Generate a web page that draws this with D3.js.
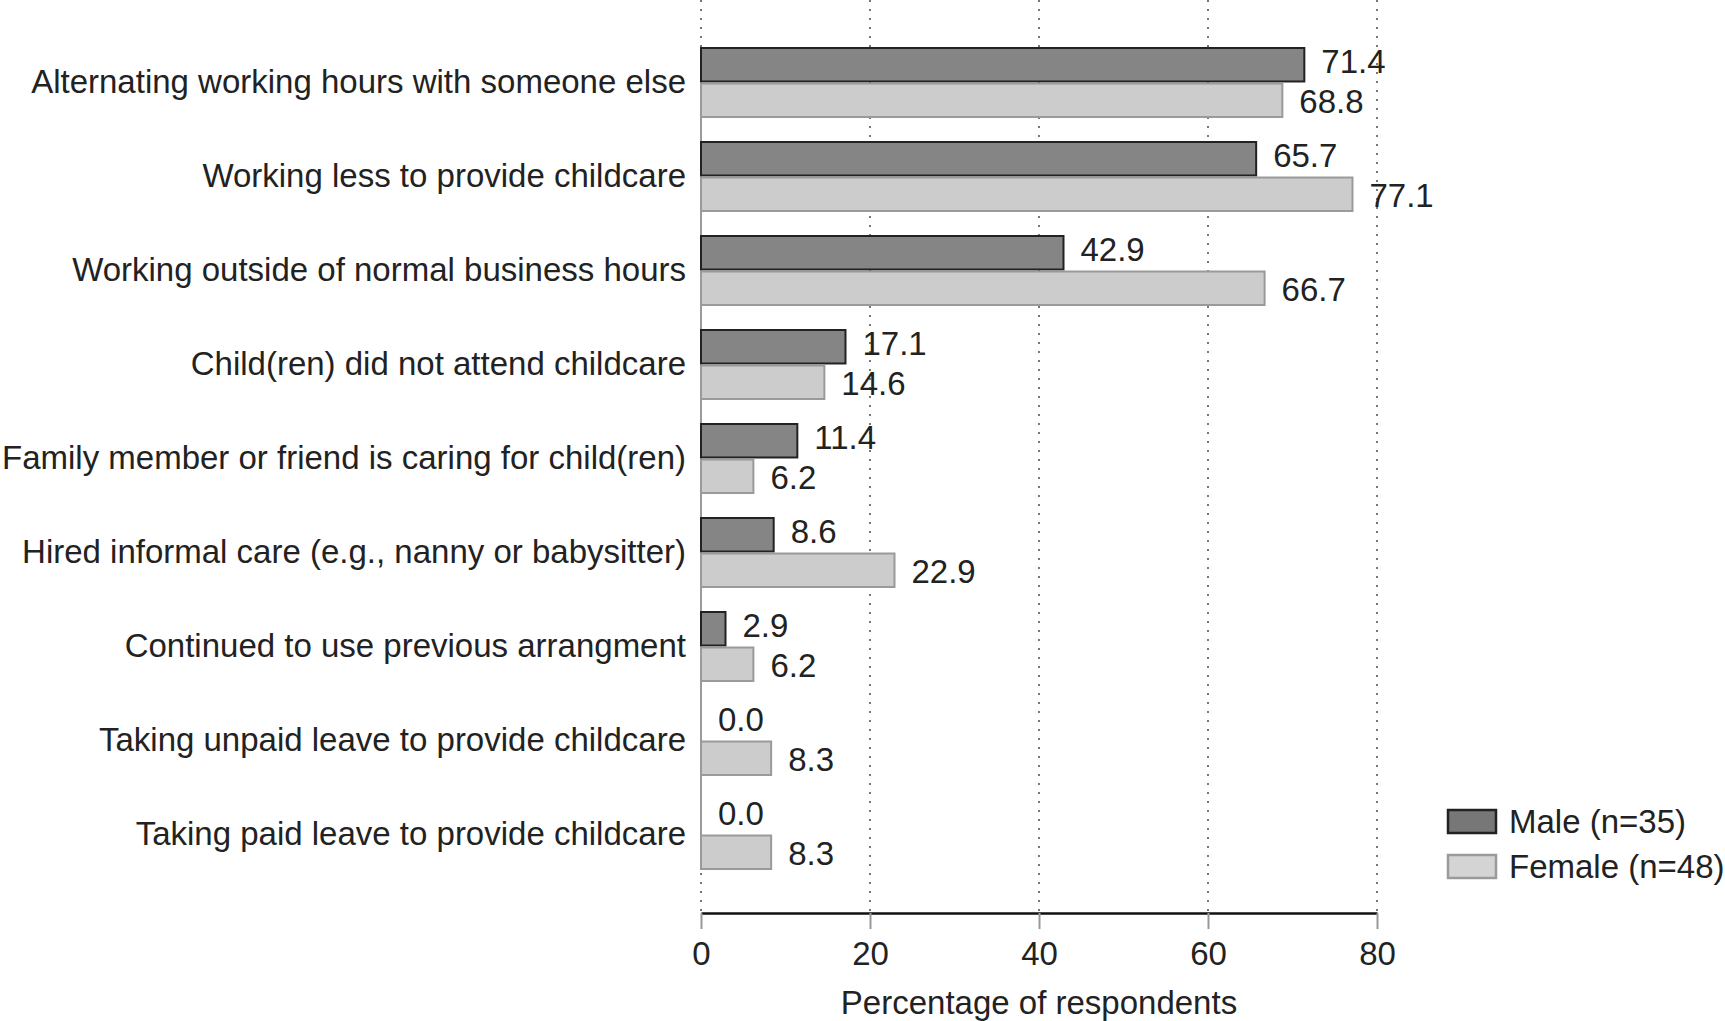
<!DOCTYPE html>
<html>
<head>
<meta charset="utf-8">
<script src="https://cdn.jsdelivr.net/npm/d3@7"></script>
<style>
    body { margin: 0; background: #fff; }
    text { font-family: "Liberation Sans", Arial, sans-serif; fill: #222; }
</style>
</head>
<body>
<svg id="chart" width="1725" height="1021"></svg>
<script>
'use strict';

// data
const categories = [
    'Alternating working hours with someone else',
    'Working less to provide childcare',
    'Working outside of normal business hours',
    'Child(ren) did not attend childcare',
    'Family member or friend is caring for child(ren)',
    'Hired informal care (e.g., nanny or babysitter)',
    'Continued to use previous arrangment',
    'Taking unpaid leave to provide childcare',
    'Taking paid leave to provide childcare'
];
const maleValues   = [71.4, 65.7, 42.9, 17.1, 11.4, 8.6, 2.9, 0.0, 0.0];
const femaleValues = [68.8, 77.1, 66.7, 14.6, 6.2, 22.9, 6.2, 8.3, 8.3];
const seriesNames  = ['Male (n=35)', 'Female (n=48)'];
const xTicks       = [0, 20, 40, 60, 80];

// style per series
const fills   = ['#858585', '#cccccc'];
const strokes = ['#222222', '#9a9a9a'];
const legendFills = ['#777777', '#d4d4d4'];
const fontSize = 33;

const svg = d3.select('#chart');

// scales
const x = d3.scaleLinear().domain([0, 80]).range([701, 1377]);
const y = d3.scaleBand().domain(categories).range([48, 869]).paddingInner(25 / 94);
const sub = d3.scaleBand().domain([0, 1]).range([0, y.bandwidth()]).paddingInner(2 / 35);
const axisY = 913;

// dotted grid lines
svg.append('g')
    .selectAll('line')
    .data(xTicks)
    .enter()
    .append('line')
    .attr('x1', d => x(d)).attr('x2', d => x(d))
    .attr('y1', 0).attr('y2', axisY)
    .attr('stroke', '#777')
    .attr('stroke-width', 2)
    .attr('stroke-dasharray', '2,7');

// light y axis line at zero
svg.append('line')
    .attr('x1', x(0)).attr('x2', x(0))
    .attr('y1', y(categories[0])).attr('y2', y(categories[categories.length - 1]) + y.bandwidth())
    .attr('stroke', '#9a9a9a')
    .attr('stroke-width', 2);

// rows built from the arrays
const rows = categories.map((c, i) => ({ cat: c, vals: [maleValues[i], femaleValues[i]] }));

const row = svg.append('g')
    .selectAll('g')
    .data(rows)
    .enter()
    .append('g')
    .attr('transform', d => `translate(0,${y(d.cat)})`);

// bars
row.selectAll('rect')
    .data(d => d.vals.map((v, k) => ({ v, k })))
    .enter()
    .append('rect')
    .attr('x', x(0))
    .attr('y', d => sub(d.k))
    .attr('width', d => x(d.v) - x(0))
    .attr('height', sub.bandwidth())
    .attr('fill', d => fills[d.k])
    .attr('stroke', d => strokes[d.k])
    .attr('stroke-width', 2);

// value labels
row.selectAll('text.val')
    .data(d => d.vals.map((v, k) => ({ v, k })))
    .enter()
    .append('text')
    .attr('class', 'val')
    .attr('x', d => x(d.v) + 17)
    .attr('y', d => sub(d.k) + sub.bandwidth() / 2 + (d.k === 0 ? 8 : 13))
    .attr('font-size', fontSize)
    .text(d => d.v.toFixed(1));

// category labels
row.append('text')
    .attr('x', 686)
    .attr('y', y.bandwidth() / 2 + 10)
    .attr('text-anchor', 'end')
    .attr('font-size', fontSize)
    .text(d => d.cat);

// x axis
const xAxis = svg.append('g')
    .attr('transform', `translate(0,${axisY})`)
    .call(d3.axisBottom(x).tickValues(xTicks).tickSize(16).tickPadding(13).tickSizeOuter(0));
xAxis.select('.domain').attr('stroke', '#111').attr('stroke-width', 2.5);
xAxis.selectAll('.tick line').attr('stroke', '#999').attr('stroke-width', 2);
xAxis.selectAll('.tick text')
    .attr('font-size', fontSize)
    .attr('font-family', '"Liberation Sans", Arial, sans-serif')
    .attr('fill', '#222');

svg.append('text')
    .attr('x', x(40))
    .attr('y', 1014)
    .attr('text-anchor', 'middle')
    .attr('font-size', fontSize)
    .text('Percentage of respondents');

// legend
const legend = svg.append('g')
    .selectAll('g')
    .data(seriesNames)
    .enter()
    .append('g')
    .attr('transform', (d, i) => `translate(1448,${810 + i * 45})`);

legend.append('rect')
    .attr('width', 48)
    .attr('height', 23)
    .attr('fill', (d, i) => legendFills[i])
    .attr('stroke', (d, i) => strokes[i])
    .attr('stroke-width', 2.5);

legend.append('text')
    .attr('x', 61)
    .attr('y', 23)
    .attr('font-size', fontSize)
    .text(d => d);
</script>
</body>
</html>
